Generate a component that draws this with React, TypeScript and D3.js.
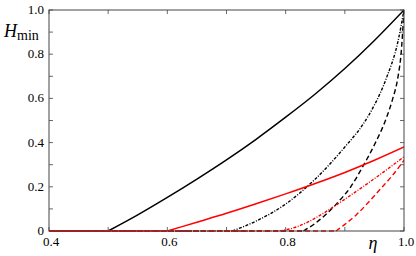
import React from 'react'
import * as d3 from 'd3'

// values (each curve is 0 from eta = 0.4 up to its first point)
const blackSolidEta = [0.5, 0.55, 0.6, 0.65, 0.7, 0.75, 0.8, 0.85, 0.9, 0.95, 1.0]
const blackSolidH = [0, 0.073, 0.152, 0.235, 0.322, 0.415, 0.515, 0.62, 0.735, 0.862, 1.0]

const blackDashDotEta = [0.71, 0.75, 0.8, 0.85, 0.9, 0.93, 0.95, 0.97, 0.99, 1.0]
const blackDashDotH = [0, 0.045, 0.122, 0.235, 0.38, 0.48, 0.57, 0.69, 0.86, 1.0]

const blackDashEta = [0.83, 0.85, 0.87, 0.89, 0.91, 0.93, 0.95, 0.97, 0.98, 0.99, 0.995, 1.0]
const blackDashH = [0, 0.035, 0.08, 0.135, 0.2, 0.29, 0.39, 0.51, 0.59, 0.7, 0.8, 1.0]

const redSolidEta = [0.6, 0.65, 0.7, 0.75, 0.8, 0.85, 0.9, 0.95, 1.0]
const redSolidH = [0, 0.04, 0.08, 0.123, 0.168, 0.215, 0.265, 0.32, 0.38]

const redDashDotEta = [0.79, 0.82, 0.85, 0.88, 0.91, 0.94, 0.97, 1.0]
const redDashDotH = [0, 0.02, 0.058, 0.108, 0.162, 0.218, 0.276, 0.336]

const redDashEta = [0.885, 0.9, 0.92, 0.94, 0.96, 0.98, 1.0]
const redDashH = [0, 0.03, 0.075, 0.13, 0.19, 0.25, 0.32]

const xTicks = [0.4, 0.5, 0.6, 0.7, 0.8, 0.9, 1.0]
const xLabels = ['0.4', '0.6', '0.8', '1.0']
const yTicks = [0, 0.1, 0.2, 0.3, 0.4, 0.5, 0.6, 0.7, 0.8, 0.9, 1.0]
const yLabels = ['0', '0.2', '0.4', '0.6', '0.8', '1.0']

const series = [
  { eta: blackDashEta, h: blackDashH, color: '#000', dash: '5,3', w: 1.4 },
  { eta: blackDashDotEta, h: blackDashDotH, color: '#000', dash: '3,1.5,1,1.5', w: 1.4 },
  { eta: blackSolidEta, h: blackSolidH, color: '#000', dash: null, w: 1.5 },
  { eta: redDashEta, h: redDashH, color: '#f00', dash: '5,3', w: 1.4 },
  { eta: redDashDotEta, h: redDashDotH, color: '#f00', dash: '3,1.5,1,1.5', w: 1.4 },
  { eta: redSolidEta, h: redSolidH, color: '#f00', dash: null, w: 1.5 },
]

export default function App() {
  const W = 416
  const H = 256
  const left = 49
  const right = 404
  const top = 10
  const bottom = 231

  const x = d3.scaleLinear().domain([0.4, 1.0]).range([left, right])
  const y = d3.scaleLinear().domain([0, 1.0]).range([bottom, top])

  const curve = d3
    .line<[number, number]>()
    .x(d => x(d[0]))
    .y(d => y(d[1]))
    .curve(d3.curveMonotoneX)
  const straight = d3
    .line<[number, number]>()
    .x(d => x(d[0]))
    .y(d => y(d[1]))

  const font = 'Liberation Serif, Times New Roman, DejaVu Serif, serif'
  const axisColor = '#444'
  const tl = 4

  return (
    <svg
      width={W}
      height={H}
      style={{ position: 'absolute', left: 0, top: 0, background: '#fff' }}
    >
      <defs>
        <clipPath id="plot">
          <rect x={left} y={top - 1} width={right - left} height={bottom - top + 2} />
        </clipPath>
      </defs>

      {/* ticks */}
      {xTicks.map(t => (
        <g key={'xt' + t}>
          <line x1={x(t)} x2={x(t)} y1={bottom} y2={bottom - tl} stroke={axisColor} strokeWidth={0.8} />
          <line x1={x(t)} x2={x(t)} y1={top} y2={top + tl} stroke={axisColor} strokeWidth={0.8} />
        </g>
      ))}
      {yTicks.map(t => (
        <g key={'yt' + t}>
          <line x1={left} x2={left + tl} y1={y(t)} y2={y(t)} stroke={axisColor} strokeWidth={0.8} />
          <line x1={right} x2={right - tl} y1={y(t)} y2={y(t)} stroke={axisColor} strokeWidth={0.8} />
        </g>
      ))}

      {/* curves: flat zero part, then the rising part */}
      <g clipPath="url(#plot)">
        {series.map((s, i) => (
          <g key={i}>
            <path
              d={straight([[0.4, 0], [s.eta[0], 0]]) || ''}
              fill="none"
              stroke={s.color}
              strokeWidth={s.w}
              strokeDasharray={s.dash || undefined}
            />
            <path
              d={curve(s.eta.map((e, j) => [e, s.h[j]] as [number, number])) || ''}
              fill="none"
              stroke={s.color}
              strokeWidth={s.w}
              strokeDasharray={s.dash || undefined}
            />
          </g>
        ))}
      </g>

      {/* frame */}
      <rect x={left} y={top} width={right - left} height={bottom - top} fill="none" stroke={axisColor} strokeWidth={1} />

      {/* tick labels */}
      <g style={{ fontFamily: font }}>
        {xLabels.map(l => (
          <text key={'xl' + l} x={x(+l) + 2} y={bottom + 15} textAnchor="middle" fontSize={13}>
            {l}
          </text>
        ))}
        {yLabels.map(l => (
          <text key={'yl' + l} x={left - 5} y={y(+l) + 4} textAnchor="end" fontSize={13}>
            {l}
          </text>
        ))}

        {/* axis labels */}
        <text x={373} y={249} textAnchor="middle" fontSize={18} fontStyle="italic">
          η
        </text>
        <text x={4} y={y(0.9) + 5} fontSize={18}>
          <tspan fontStyle="italic">H</tspan>
          <tspan fontSize={14} dy={3}>min</tspan>
        </text>
      </g>
    </svg>
  )
}
